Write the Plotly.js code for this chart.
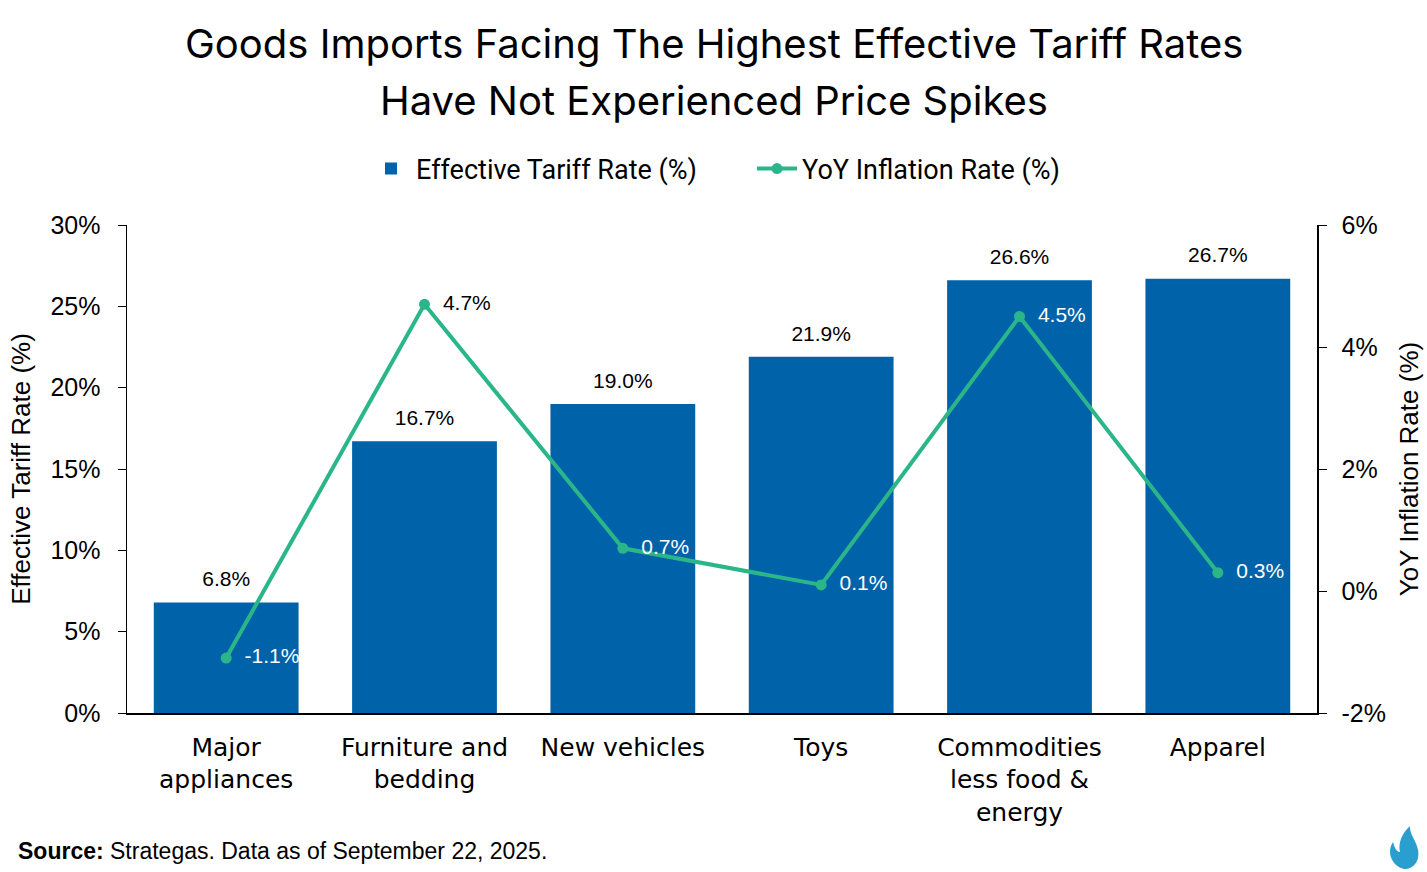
<!DOCTYPE html>
<html>
<head>
<meta charset="utf-8">
<script src="https://cdn.plot.ly/plotly-3.0.1.min.js"></script>
<style>
html,body{margin:0;padding:0;background:#fff;}
#chart{width:1427px;height:872px;}
</style>
</head>
<body>
<div id="chart"></div>
<script>
const categories = ["Major<br>appliances", "Furniture and<br>bedding", "New vehicles", "Toys", "Commodities<br>less food &<br>energy", "Apparel"];
const tariffRates = [6.8, 16.7, 19.0, 21.9, 26.6, 26.7];
const inflationRates = [-1.1, 4.7, 0.7, 0.1, 4.5, 0.3];
const inflationLabelColors = ["#ffffff", "#000000", "#ffffff", "#ffffff", "#ffffff", "#ffffff"];
const leftTickVals = [0, 5, 10, 15, 20, 25, 30];
const leftTickText = ["0%", "5%", "10%", "15%", "20%", "25%", "30%"];
const rightTickVals = [-2, 0, 2, 4, 6];
const rightTickText = ["-2%", "0%", "2%", "4%", "6%"];
const titleLines = ["Goods Imports Facing The Highest Effective Tariff Rates", "Have Not Experienced Price Spikes"];

const barColor = "#0062a8";
const lineColor = "#2bb68a";
const textFont = "Liberation Sans, Arial, sans-serif";
const catFont = "DejaVu Sans, sans-serif";
const titleFont = "Inter, Roboto, sans-serif";

const traces = [
  {
    type: "bar",
    name: "Effective Tariff Rate (%)",
    x: categories,
    y: tariffRates,
    marker: {color: barColor},
    hoverinfo: "none"
  },
  {
    type: "scatter",
    mode: "markers+text",
    name: "bar labels",
    showlegend: false,
    x: categories,
    y: tariffRates,
    marker: {size: 16, opacity: 0, color: barColor},
    text: tariffRates.map(v => v.toFixed(1) + "%"),
    textposition: "top center",
    cliponaxis: false,
    textfont: {family: textFont, size: 21, color: "#000"},
    hoverinfo: "none"
  },
  {
    type: "scatter",
    mode: "lines+markers+text",
    name: "YoY Inflation Rate (%)",
    x: categories,
    y: inflationRates,
    yaxis: "y2",
    line: {color: lineColor, width: 4},
    marker: {color: lineColor, size: 11},
    text: inflationRates.map(v => "\u2002" + v.toFixed(1) + "%"),
    textposition: "middle right",
    cliponaxis: false,
    textfont: {family: textFont, size: 21, color: inflationLabelColors},
    hoverinfo: "none"
  }
];

const layout = {
  width: 1427,
  height: 872,
  margin: {l: 127, r: 110, t: 225, b: 159},
  paper_bgcolor: "#fff",
  plot_bgcolor: "#fff",
  bargap: 0.27,
  showlegend: true,
  legend: {
    orientation: "h",
    xref: "container", yref: "container",
    x: 0.527, xanchor: "center",
    y: 1 - 169/872, yanchor: "middle",
    font: {family: "Roboto, sans-serif", size: 27, color: "#000"},
    itemwidth: 40,
    entrywidth: 331,
    entrywidthmode: "pixels",
    tracegroupgap: 0
  },
  xaxis: {
    showline: true, linecolor: "#000", linewidth: 1.5,
    ticks: "", showgrid: false,
    tickfont: {family: catFont, size: 25, color: "#000"},
    ticklabelstandoff: 11
  },
  yaxis: {
    range: [0, 30], tickvals: leftTickVals, ticktext: leftTickText,
    showline: true, linecolor: "#000", linewidth: 1.5,
    ticks: "outside", ticklen: 8, tickcolor: "#000",
    showgrid: false, zeroline: false,
    ticklabelstandoff: 12,
    tickfont: {family: textFont, size: 25, color: "#000"},
    title: {text: "Effective Tariff Rate (%)", font: {family: textFont, size: 26, color: "#000"}, standoff: 12}
  },
  yaxis2: {
    overlaying: "y", side: "right",
    range: [-2, 6], tickvals: rightTickVals, ticktext: rightTickText,
    showline: true, linecolor: "#000", linewidth: 1.5,
    ticks: "outside", ticklen: 8, tickcolor: "#000",
    showgrid: false, zeroline: false,
    ticklabelstandoff: 10,
    tickfont: {family: textFont, size: 25, color: "#000"},
    title: {text: "YoY Inflation Rate (%)", font: {family: textFont, size: 26, color: "#000"}, standoff: 15}
  },
  annotations: [
    {
      xref: "paper", yref: "paper",
      x: 0.5 - 8/1190, y: 1 + (225 - 43)/488,
      xanchor: "center", yanchor: "middle",
      text: titleLines[0], showarrow: false,
      font: {family: titleFont, size: 40, color: "#000"}
    },
    {
      xref: "paper", yref: "paper",
      x: 0.5 - 8/1190, y: 1 + (225 - 100)/488,
      xanchor: "center", yanchor: "middle",
      text: titleLines[1], showarrow: false,
      font: {family: titleFont, size: 40, color: "#000"}
    },
    {
      xref: "paper", yref: "paper",
      x: (16 - 127)/1190, y: -(851 - 713)/488,
      xanchor: "left", yanchor: "middle",
      text: "<b>Source:</b> Strategas. Data as of September 22, 2025.",
      showarrow: false, align: "left",
      font: {family: textFont, size: 23, color: "#000"}
    }
  ],
  shapes: [
    {
      type: "path", xref: "paper", yref: "paper", layer: "above",
      path: (function(){
        const px = x => ((x - 127)/1190).toFixed(4);
        const py = y => ((713 - y)/488).toFixed(4);
        return "M " + px(1404) + "," + py(869) +
          " C " + px(1392) + "," + py(866) + " " + px(1386) + "," + py(852) + " " + px(1393) + "," + py(842) +
          " C " + px(1395) + "," + py(850) + " " + px(1398) + "," + py(852) + " " + px(1400) + "," + py(852) +
          " C " + px(1398) + "," + py(843) + " " + px(1402) + "," + py(833) + " " + px(1410) + "," + py(826) +
          " C " + px(1409) + "," + py(836) + " " + px(1421) + "," + py(845) + " " + px(1418) + "," + py(858) +
          " C " + px(1416) + "," + py(866) + " " + px(1410) + "," + py(869) + " " + px(1404) + "," + py(869) + " Z";
      })(),
      fillcolor: "#2a9fcf", line: {width: 0}
    }
  ]
};

Plotly.newPlot("chart", traces, layout, {displayModeBar: false, staticPlot: true});
</script>
</body>
</html>
